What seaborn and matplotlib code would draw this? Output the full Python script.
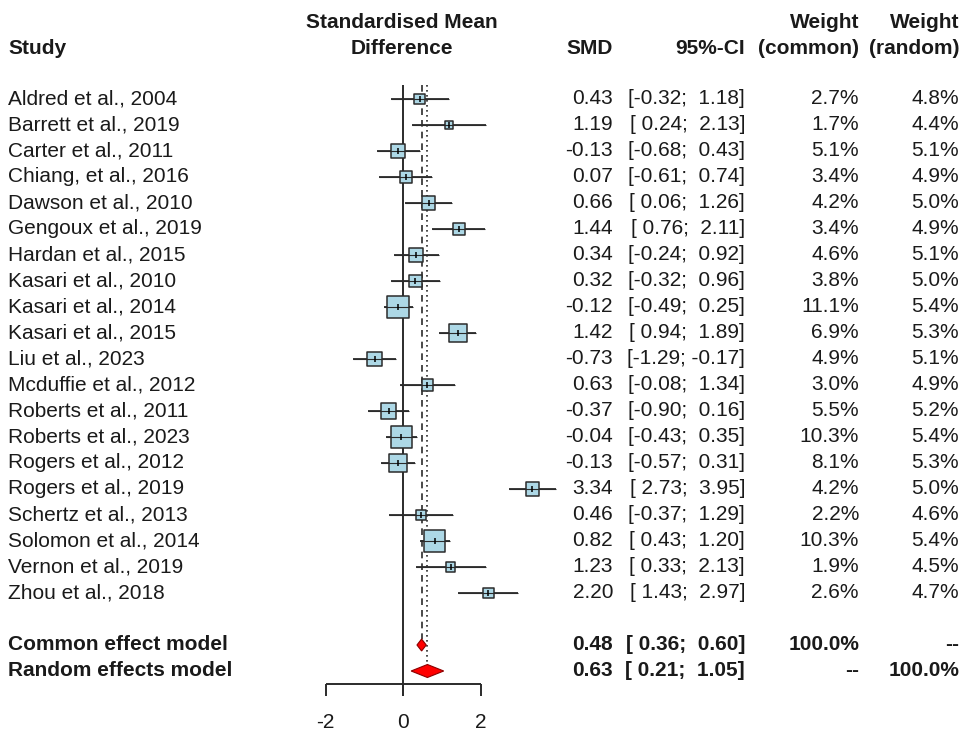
import numpy as np
import pandas as pd
import matplotlib.pyplot as plt
import matplotlib.transforms as mtransforms
import seaborn as sns

# --- veriler ---
studies = ["Aldred et al., 2004", "Barrett et al., 2019", "Carter et al., 2011",
           "Chiang, et al., 2016", "Dawson et al., 2010", "Gengoux et al., 2019",
           "Hardan et al., 2015", "Kasari et al., 2010", "Kasari et al., 2014",
           "Kasari et al., 2015", "Liu et al., 2023", "Mcduffie et al., 2012",
           "Roberts et al., 2011", "Roberts et al., 2023", "Rogers et al., 2012",
           "Rogers et al., 2019", "Schertz et al., 2013", "Solomon et al., 2014",
           "Vernon et al., 2019", "Zhou et al., 2018"]
smd = [0.43, 1.19, -0.13, 0.07, 0.66, 1.44, 0.34, 0.32, -0.12, 1.42,
       -0.73, 0.63, -0.37, -0.04, -0.13, 3.34, 0.46, 0.82, 1.23, 2.20]
ci_low = [-0.32, 0.24, -0.68, -0.61, 0.06, 0.76, -0.24, -0.32, -0.49, 0.94,
          -1.29, -0.08, -0.90, -0.43, -0.57, 2.73, -0.37, 0.43, 0.33, 1.43]
ci_high = [1.18, 2.13, 0.43, 0.74, 1.26, 2.11, 0.92, 0.96, 0.25, 1.89,
           -0.17, 1.34, 0.16, 0.35, 0.31, 3.95, 1.29, 1.20, 2.13, 2.97]
w_common = [2.7, 1.7, 5.1, 3.4, 4.2, 3.4, 4.6, 3.8, 11.1, 6.9,
            4.9, 3.0, 5.5, 10.3, 8.1, 4.2, 2.2, 10.3, 1.9, 2.6]
w_random = [4.8, 4.4, 5.1, 4.9, 5.0, 4.9, 5.1, 5.0, 5.4, 5.3,
            5.1, 4.9, 5.2, 5.4, 5.3, 5.0, 4.6, 5.4, 4.5, 4.7]

pooled_names = ["Common effect model", "Random effects model"]
pooled_est = [0.48, 0.63]
pooled_low = [0.36, 0.21]
pooled_high = [0.60, 1.05]
pooled_wc = ["100.0%", "--"]
pooled_wr = ["--", "100.0%"]

x_ticks = [-2, 0, 2]

df = pd.DataFrame({"study": studies, "smd": smd, "lo": ci_low, "hi": ci_high,
                   "wc": w_common, "wr": w_random})
df["row"] = np.arange(len(df))

# --- figür ---
sns.set_theme(style="white")
plt.rcParams["font.family"] = ["Liberation Sans", "DejaVu Sans"]

W, H = 966, 733
fig = plt.figure(figsize=(W / 100, H / 100), dpi=100)
ax = fig.add_axes([0, 0, 1, 1])
ax.set_axis_off()

x0_px, unit_px = 403, 38.75      # 0 noktası ve birim genişliği (piksel)
row0_px, row_px = 99, 26         # ilk satır ve satır aralığı (piksel)
ax.set_xlim(-x0_px / unit_px, (W - x0_px) / unit_px)
ax.set_ylim((H - row0_px) / row_px, -row0_px / row_px)

n = len(df)
r_common, r_random = n + 1, n + 2
axis_row = r_random + 0.5
top_row = -0.55
line_col = "#2b2b2b"
txt_col = "#1a1a1a"

# referans çizgileri
ax.vlines(0, top_row, axis_row + 0.45, color=line_col, lw=1.4, zorder=1)
ax.vlines(pooled_est[0], top_row, r_common - 0.25, color=line_col, lw=1.2,
          linestyles=(0, (4, 3)), zorder=1)
ax.vlines(pooled_est[1], top_row, r_random - 0.25, color=line_col, lw=1.2,
          linestyles=(0, (1, 2)), zorder=1)

# güven aralıkları
ax.hlines(df["row"], df["lo"], df["hi"], color=line_col, lw=1.3, zorder=2)

# ağırlıklı kareler (alan ~ ağırlık)
k = 22.6
sns.scatterplot(data=df, x="smd", y="row", size="wc",
                sizes=(k * df["wc"].min(), k * df["wc"].max()),
                marker="s", color="#add8e6", edgecolor=line_col, linewidth=1.1,
                legend=False, ax=ax, zorder=3)
ax.hlines(df["row"], df["lo"], df["hi"], color=line_col, lw=0.8, zorder=4)
ax.vlines(df["smd"], df["row"] - 0.13, df["row"] + 0.13, color="black", lw=1.1, zorder=4)

# özet elmaslar
for r, est, lo, hi, h in zip([r_common, r_random], pooled_est, pooled_low, pooled_high,
                             [0.23, 0.25]):
    ax.fill([lo, est, hi, est], [r, r - h, r, r + h], facecolor="red",
            edgecolor="#8b0000", lw=0.8, zorder=3)

# x ekseni
ax.hlines(axis_row, min(x_ticks), max(x_ticks), color=line_col, lw=1.4)
ax.vlines(x_ticks, axis_row, axis_row + 0.45, color=line_col, lw=1.4)
for t in x_ticks:
    ax.text(t, axis_row + 1.5, f"{t}", ha="center", va="center", fontsize=15, color=txt_col)

# --- metin sütunları ---
tr = mtransforms.blended_transform_factory(fig.transFigure, ax.transData)
fs = 15
x_study, x_smd, x_ci, x_wc, x_wr = 8, 613, 745, 859, 959


def put(xpx, row, s, ha="left", bold=False):
    ax.text(xpx / W, row, s, transform=tr, ha=ha, va="center", fontsize=fs,
            color=txt_col, fontweight="bold" if bold else "normal")


def fmt_ci(lo, hi):
    return f"[{lo:5.2f}; {hi:5.2f}]"


hr1, hr2 = -2.96, -1.96
put(x_study, hr2, "Study", bold=True)
put(402, hr1, "Standardised Mean", ha="center", bold=True)
put(402, hr2, "Difference", ha="center", bold=True)
put(x_smd, hr2, "SMD", ha="right", bold=True)
put(x_ci, hr2, "95%-CI", ha="right", bold=True)
put(x_wc, hr1, "Weight", ha="right", bold=True)
put(x_wc, hr2, "(common)", ha="right", bold=True)
put(x_wr, hr1, "Weight", ha="right", bold=True)
put(x_wr, hr2, "(random)", ha="right", bold=True)

for _, r in df.iterrows():
    put(x_study, r["row"], r["study"])
    put(x_smd, r["row"], f"{r['smd']:.2f}", ha="right")
    put(x_ci, r["row"], fmt_ci(r["lo"], r["hi"]), ha="right")
    put(x_wc, r["row"], f"{r['wc']:.1f}%", ha="right")
    put(x_wr, r["row"], f"{r['wr']:.1f}%", ha="right")

for i, row in enumerate([r_common, r_random]):
    put(x_study, row, pooled_names[i], bold=True)
    put(x_smd, row, f"{pooled_est[i]:.2f}", ha="right", bold=True)
    put(x_ci, row, fmt_ci(pooled_low[i], pooled_high[i]), ha="right", bold=True)
    put(x_wc, row, pooled_wc[i], ha="right", bold=True)
    put(x_wr, row, pooled_wr[i], ha="right", bold=True)

fig.savefig("out.png", dpi=100)
